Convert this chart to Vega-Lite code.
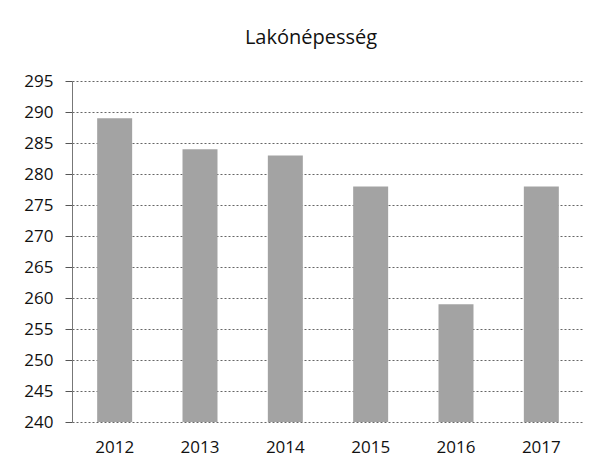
{
  "$schema": "https://vega.github.io/schema/vega-lite/v6.json",
  "autosize": "none",
  "width": 512,
  "height": 341,
  "padding": {"left": 72, "top": 81, "right": 13, "bottom": 46},
  "background": "white",
  "title": {
    "text": "Lakónépesség",
    "font": "Open Sans",
    "fontSize": 20,
    "fontWeight": "normal",
    "color": "#111",
    "anchor": "middle",
    "dx": -17,
    "offset": 24
  },
  "data": {
    "values": [
      {"year": "2012", "value": 289},
      {"year": "2013", "value": 284},
      {"year": "2014", "value": 283},
      {"year": "2015", "value": 278},
      {"year": "2016", "value": 259},
      {"year": "2017", "value": 278}
    ]
  },
  "mark": {"type": "bar", "color": "#a3a3a3", "clip": true},
  "encoding": {
    "x": {
      "field": "year",
      "type": "ordinal",
      "scale": {"paddingInner": 0.59, "paddingOuter": 0.295},
      "axis": {
        "title": null,
        "labelAngle": 0,
        "labelFont": "Open Sans",
        "labelFontSize": 17,
        "labelColor": "#111",
        "ticks": false,
        "domain": false,
        "labelPadding": 17
      }
    },
    "y": {
      "field": "value",
      "type": "quantitative",
      "scale": {"domain": [240, 295], "nice": false, "zero": false},
      "axis": {
        "title": null,
        "values": [240, 245, 250, 255, 260, 265, 270, 275, 280, 285, 290, 295],
        "labelFont": "Open Sans",
        "labelFontSize": 17,
        "labelColor": "#111",
        "tickSize": 7,
        "tickColor": "#555",
        "labelPadding": 12,
        "domainColor": "#777",
        "gridColor": "#666",
        "gridDash": [2, 2],
        "gridWidth": 1
      }
    }
  },
  "config": {"view": {"stroke": null}}
}
